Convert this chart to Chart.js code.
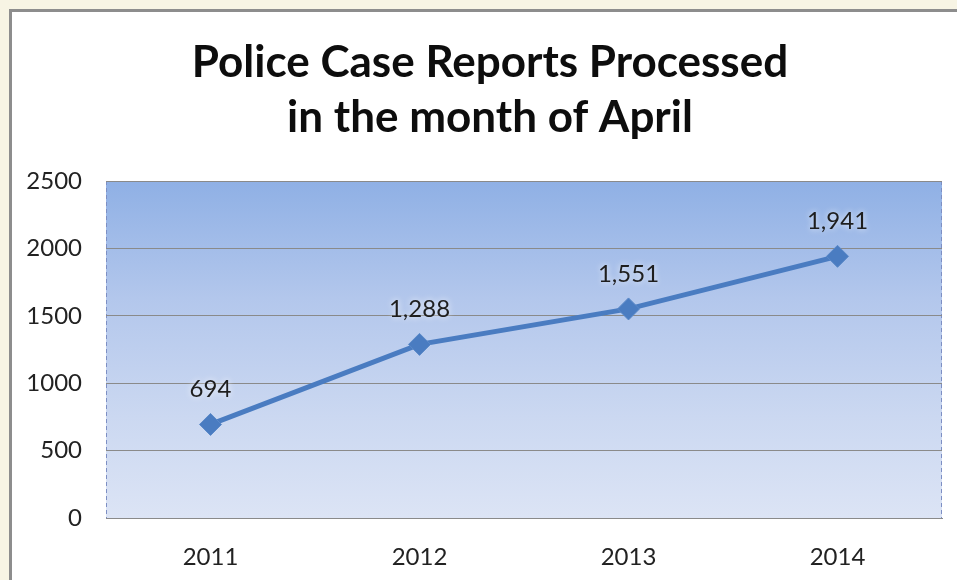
<!DOCTYPE html>
<html>
<head>
<meta charset="utf-8">
<script src="https://cdn.jsdelivr.net/npm/chart.js@4/dist/chart.umd.min.js"></script>
<style>
  html, body { margin: 0; padding: 0; }
  body { width: 957px; height: 580px; background: #f7f4e4; position: relative; overflow: hidden; }
  #panel { position: absolute; left: 9px; top: 9px; width: 960px; height: 580px;
           background: #ffffff; border-left: 3px solid #8d8d8d; border-top: 3px solid #8d8d8d; }
  #wrap { position: absolute; left: 0; top: 0; width: 957px; height: 580px; }
</style>
</head>
<body>
<div id="panel"></div>
<div id="wrap"><canvas id="c" width="957" height="580"></canvas></div>
<script>
// Reports processed each April
const years = ['2011', '2012', '2013', '2014'];
const reports = [694, 1288, 1551, 1941];
const yTicks = [0, 500, 1000, 1500, 2000, 2500];
const titleLines = ['Police Case Reports Processed', 'in the month of April'];

const FONT = "'Lato', 'Carlito', 'Calibri', sans-serif";
const BLUE = '#4a7cc1';

// Two-line heading centred over the panel
const heading = {
  id: 'heading',
  afterDraw(chart) {
    const { ctx } = chart;
    ctx.save();
    ctx.font = 'bold 44px ' + FONT;
    ctx.fillStyle = '#0d0d0d';
    ctx.textAlign = 'center';
    ctx.textBaseline = 'alphabetic';
    titleLines.forEach((line, i) => ctx.fillText(line, 490, 77 + i * 55));
    ctx.restore();
  }
};

// Blue gradient fill behind the plot, with dashed side edges
const plotBackground = {
  id: 'plotBackground',
  beforeDraw(chart) {
    const { ctx, chartArea: a } = chart;
    const g = ctx.createLinearGradient(0, a.top, 0, a.bottom);
    g.addColorStop(0, '#8fb0e5');
    g.addColorStop(0.35, '#b3c7ec');
    g.addColorStop(0.7, '#cbd8f1');
    g.addColorStop(1, '#dce4f5');
    ctx.save();
    ctx.fillStyle = g;
    ctx.fillRect(a.left, a.top, a.right - a.left, a.bottom - a.top);
    ctx.strokeStyle = '#7d8fc4';
    ctx.lineWidth = 1;
    ctx.setLineDash([4, 3]);
    ctx.beginPath();
    ctx.moveTo(a.left + 0.5, a.top); ctx.lineTo(a.left + 0.5, a.bottom);
    ctx.moveTo(a.right - 0.5, a.top); ctx.lineTo(a.right - 0.5, a.bottom);
    ctx.stroke();
    ctx.restore();
  }
};

// Value labels above each point
const valueLabels = {
  id: 'valueLabels',
  afterDatasetsDraw(chart) {
    const { ctx } = chart;
    const meta = chart.getDatasetMeta(0);
    ctx.save();
    ctx.font = '24px ' + FONT;
    ctx.fillStyle = '#1e1e1e';
    ctx.textAlign = 'center';
    ctx.textBaseline = 'middle';
    ctx.shadowColor = 'rgba(255,255,255,0.9)';
    ctx.shadowBlur = 6;
    meta.data.forEach((pt, i) => {
      const v = chart.data.datasets[0].data[i];
      ctx.fillText(v.toLocaleString('en-US'), pt.x, pt.y - 35);
    });
    ctx.restore();
  }
};

new Chart(document.getElementById('c'), {
  type: 'line',
  data: {
    labels: years,
    datasets: [{
      data: reports,
      borderColor: BLUE,
      borderWidth: 5,
      backgroundColor: '#4a7cc1',
      pointStyle: 'rectRot',
      pointRadius: 11,
      pointBorderColor: '#5a89c8',
      pointBorderWidth: 1,
      tension: 0
    }]
  },
  options: {
    responsive: false,
    animation: false,
    events: [],
    layout: { padding: { left: 0, right: 15, top: 181, bottom: 0 } },
    plugins: {
      legend: { display: false },
      tooltip: { enabled: false },
      title: { display: false }
    },
    scales: {
      x: {
        offset: true,
        grid: { display: false },
        border: { display: true, color: '#8a8a8a', width: 1 },
        ticks: { color: '#222', font: { family: FONT, size: 24 }, padding: 17 },
        afterFit(s) { s.height = 62; }
      },
      y: {
        min: 0,
        max: 2500,
        afterBuildTicks(s) { s.ticks = yTicks.map(v => ({ value: v })); },
        grid: { color: '#8a8a8a', lineWidth: 1, drawTicks: false },
        border: { display: false },
        ticks: {
          color: '#222',
          font: { family: FONT, size: 24 },
          padding: 24,
          callback: v => String(v)
        },
        afterFit(s) { s.width = 106; }
      }
    }
  },
  plugins: [plotBackground, valueLabels, heading]
});
</script>
</body>
</html>
